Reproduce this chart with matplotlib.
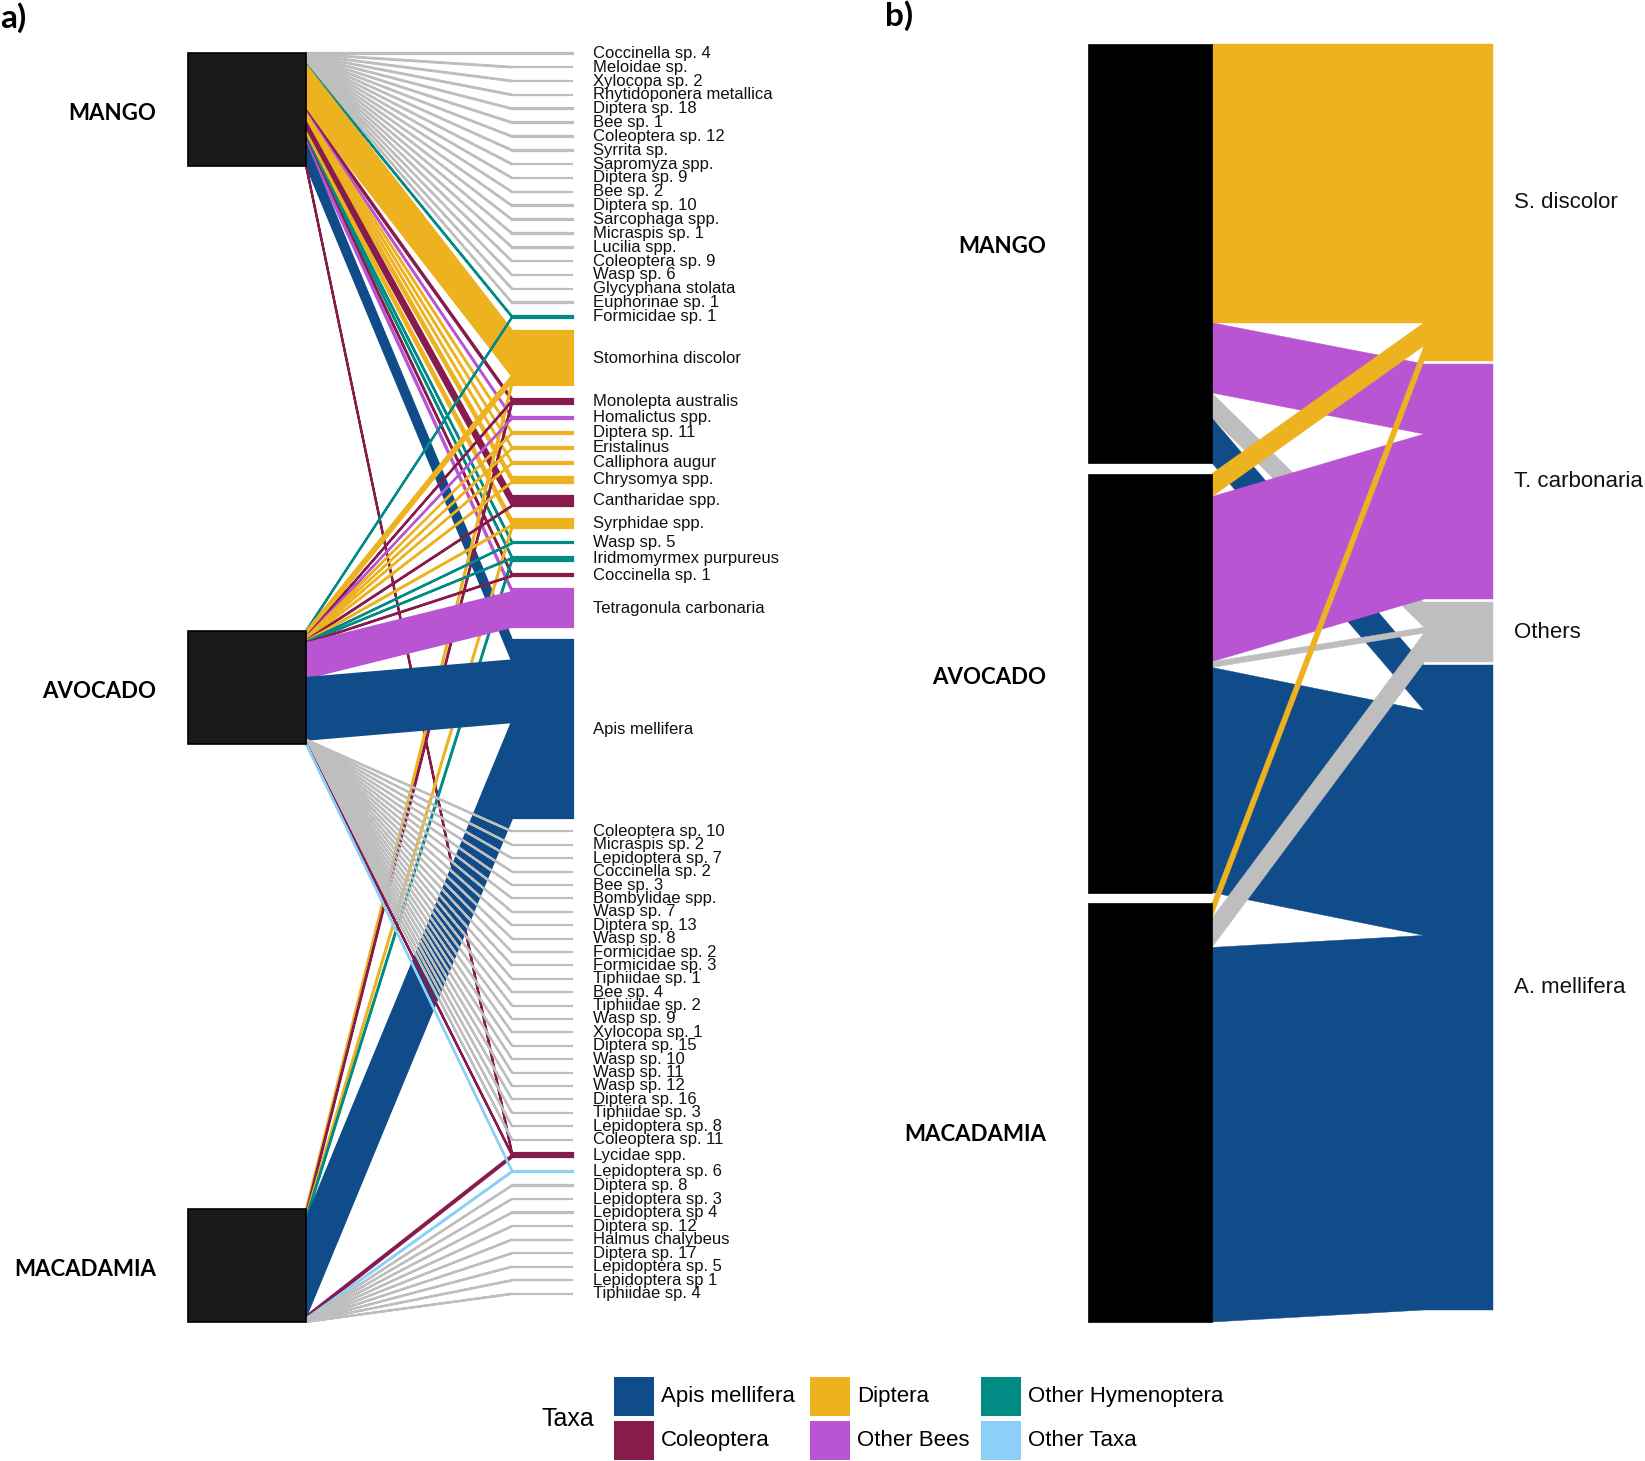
import numpy as np
import matplotlib
matplotlib.use("Agg")
import matplotlib.pyplot as plt
from matplotlib.patches import Polygon, Rectangle

# ---------------------------------------------------------------- data
CROPS = ["MANGO", "AVOCADO", "MACADAMIA"]

TAXA = ["Apis mellifera", "Coleoptera", "Diptera",
        "Other Bees", "Other Hymenoptera", "Other Taxa"]
TAXA_COLORS = ["#104c89", "#871c4c", "#edb220", "#b954d3", "#008b84", "#8ccff8"]
SINGLE_CROP_COLOR = "#bebebe"

# panel a: visitor species (top to bottom) and their taxon (index into TAXA)
SPECIES_A = [
    "Coccinella sp. 4", "Meloidae sp.", "Xylocopa sp. 2", "Rhytidoponera metallica",
    "Diptera sp. 18", "Bee sp. 1", "Coleoptera sp. 12", "Syrrita sp.",
    "Sapromyza spp.", "Diptera sp. 9", "Bee sp. 2", "Diptera sp. 10",
    "Sarcophaga spp.", "Micraspis sp. 1", "Lucilia spp.", "Coleoptera sp. 9",
    "Wasp sp. 6", "Glycyphana stolata", "Euphorinae sp. 1",
    "Formicidae sp. 1", "Stomorhina discolor", "Monolepta australis",
    "Homalictus spp.", "Diptera sp. 11", "Eristalinus", "Calliphora augur",
    "Chrysomya spp.", "Cantharidae spp.", "Syrphidae spp.", "Wasp sp. 5",
    "Iridmomyrmex purpureus", "Coccinella sp. 1", "Tetragonula carbonaria",
    "Apis mellifera",
    "Coleoptera sp. 10", "Micraspis sp. 2", "Lepidoptera sp. 7", "Coccinella sp. 2",
    "Bee sp. 3", "Bombylidae spp.", "Wasp sp. 7", "Diptera sp. 13", "Wasp sp. 8",
    "Formicidae sp. 2", "Formicidae sp. 3", "Tiphiidae sp. 1", "Bee sp. 4",
    "Tiphiidae sp. 2", "Wasp sp. 9", "Xylocopa sp. 1", "Diptera sp. 15",
    "Wasp sp. 10", "Wasp sp. 11", "Wasp sp. 12", "Diptera sp. 16",
    "Tiphiidae sp. 3", "Lepidoptera sp. 8", "Coleoptera sp. 11",
    "Lycidae spp.", "Lepidoptera sp. 6",
    "Diptera sp. 8", "Lepidoptera sp. 3", "Lepidoptera sp 4", "Diptera sp. 12",
    "Halmus chalybeus", "Diptera sp. 17", "Lepidoptera sp. 5", "Lepidoptera sp 1",
    "Tiphiidae sp. 4",
]
TAXON_A = [
    1, 1, 3, 4, 2, 3, 1, 2, 2, 2, 3, 2, 2, 1, 2, 1, 4, 1, 4,
    4, 2, 1, 3, 2, 2, 2, 2, 1, 2, 4, 4, 1, 3, 0,
    1, 1, 5, 1, 3, 2, 4, 2, 4, 4, 4, 4, 3, 4, 4, 3, 2, 4, 4, 4, 2, 4, 5, 1,
    1, 5,
    2, 5, 5, 2, 1, 2, 5, 5, 4,
]

# share of visits (%) of each species in each crop
MANGO_A = [
    0.55, 0.55, 0.55, 0.55, 0.55, 0.55, 0.55, 0.55, 0.55, 0.55,
    0.55, 0.55, 0.55, 0.55, 0.55, 0.55, 0.55, 0.55, 0.55,
    0.8, 42.0, 2.0, 1.2, 1.2, 1.2, 1.2, 4.5, 9.0, 5.0, 1.2, 1.2, 1.5, 2.5, 19.0,
    0, 0, 0, 0, 0, 0, 0, 0, 0, 0, 0, 0, 0, 0, 0, 0, 0, 0, 0, 0, 0, 0, 0, 0,
    1.5, 0,
    0, 0, 0, 0, 0, 0, 0, 0, 0,
]
AVOCADO_A = [
    0, 0, 0, 0, 0, 0, 0, 0, 0, 0, 0, 0, 0, 0, 0, 0, 0, 0, 0,
    0.4, 5.0, 0.5, 0.4, 0.4, 0.4, 0.4, 0.8, 0.6, 0.8, 0.4, 0.4, 0.5, 31.0, 55.0,
    0.12, 0.12, 0.12, 0.12, 0.12, 0.12, 0.12, 0.12, 0.12, 0.12, 0.12, 0.12,
    0.12, 0.12, 0.12, 0.12, 0.12, 0.12, 0.12, 0.12, 0.12, 0.12, 0.12, 0.12,
    0.5, 0.5,
    0, 0, 0, 0, 0, 0, 0, 0, 0,
]
MACADAMIA_A = [
    0, 0, 0, 0, 0, 0, 0, 0, 0, 0, 0, 0, 0, 0, 0, 0, 0, 0, 0,
    0, 3.5, 2.0, 0, 0, 0, 0, 0, 0, 2.5, 0, 2.0, 0, 0, 85.0,
    0, 0, 0, 0, 0, 0, 0, 0, 0, 0, 0, 0, 0, 0, 0, 0, 0, 0, 0, 0, 0, 0, 0, 0,
    2.0, 0.8,
    0.25, 0.25, 0.25, 0.25, 0.25, 0.25, 0.25, 0.25, 0.25,
]

# panel b: grouped visitors
GROUPS_B = ["S. discolor", "T. carbonaria", "Others", "A. mellifera"]
GROUP_COLORS_B = ["#edb220", "#b954d3", "#bebebe", "#104c89"]
MANGO_B = [66.4, 16.7, 6.0, 10.7]
AVOCADO_B = [5.5, 39.4, 1.4, 53.7]
MACADAMIA_B = [3.6, 0.0, 7.0, 89.4]

# ---------------------------------------------------------------- layout (pixels)
W, H = 1645, 1461
SANS = ["Liberation Sans", "DejaVu Sans"]
BOLD = ["Lato", "DejaVu Sans"]

fig = plt.figure(figsize=(W / 100, H / 100), dpi=100)
ax = fig.add_axes([0, 0, 1, 1])
ax.set_xlim(0, W)
ax.set_ylim(H, 0)
ax.axis("off")


def box_tops(top, bottom, h, n):
    gap = (bottom - top - n * h) / (n - 1)
    return [top + i * (h + gap) for i in range(n)]


# ---- panel a
A_X0, A_X1 = 188, 306          # crop boxes
A_KINK, A_SP_X1 = 512, 573     # species bars
A_BOX_H = 113
A_SP_TOP, A_SP_BOTTOM = 53, 1294
LINK_LW = 1.6

vals = np.array([MANGO_A, AVOCADO_A, MACADAMIA_A], dtype=float)
widths = vals / vals.sum(axis=1, keepdims=True) * A_BOX_H
n_sp = len(SPECIES_A)
sp_h = widths.sum(axis=0)
sp_gap = (A_SP_BOTTOM - A_SP_TOP - sp_h.sum()) / (n_sp - 1)
sp_top = A_SP_TOP + np.concatenate([[0], np.cumsum(sp_h + sp_gap)[:-1]])
n_crops_visited = (vals > 0).sum(axis=0)
sp_color = [SINGLE_CROP_COLOR if n_crops_visited[i] == 1 else TAXA_COLORS[TAXON_A[i]]
            for i in range(n_sp)]

crop_top_a = box_tops(A_SP_TOP, 1322, A_BOX_H, len(CROPS))
crop_off = [crop_top_a[c] + np.concatenate([[0], np.cumsum(widths[c])[:-1]])
            for c in range(len(CROPS))]
sp_off = sp_top + np.vstack([np.zeros(n_sp), np.cumsum(widths, axis=0)[:-1]])

for c in [0, 2, 1]:
    for s in range(n_sp):
        w = widths[c, s]
        if w <= 0:
            continue
        y0, y1 = crop_off[c][s], sp_off[c, s]
        ax.add_patch(Polygon([(A_X1, y0), (A_KINK, y1), (A_KINK, y1 + w), (A_X1, y0 + w)],
                             closed=True, facecolor=sp_color[s], edgecolor=sp_color[s],
                             lw=LINK_LW, joinstyle="round"))

for s in range(n_sp):
    ax.add_patch(Rectangle((A_KINK, sp_top[s]), A_SP_X1 - A_KINK, sp_h[s],
                           facecolor=sp_color[s], edgecolor=sp_color[s], lw=LINK_LW))
    ax.text(593, sp_top[s] + sp_h[s] / 2, SPECIES_A[s], fontsize=12, family=SANS,
            ha="left", va="center", color="#111111")

for c, name in enumerate(CROPS):
    ax.add_patch(Rectangle((A_X0, crop_top_a[c]), A_X1 - A_X0, A_BOX_H,
                           facecolor="#1a1a1a", edgecolor="black", lw=1.2, zorder=3))
    ax.text(156, crop_top_a[c] + A_BOX_H / 2 + 4, name, fontsize=16, family=BOLD,
            fontweight="bold", ha="right", va="center")

ax.text(0, 18, "a)", fontsize=24, family=BOLD, fontweight="bold", ha="left", va="center")

# ---- panel b
B_X0, B_X1 = 1088, 1212
B_KINK, B_X2 = 1424, 1493
B_TOP, B_BOX_H, B_GAP, B_RGAP = 44, 419, 10.5, 3
B_LABEL_DY = [-7, -5, 22]

vb = np.array([MANGO_B, AVOCADO_B, MACADAMIA_B], dtype=float)
wb = vb / vb.sum(axis=1, keepdims=True) * B_BOX_H
grp_h = wb.sum(axis=0)
grp_top = B_TOP + np.concatenate([[0], np.cumsum(grp_h + B_RGAP)[:-1]])
crop_top_b = [B_TOP + i * (B_BOX_H + B_GAP) for i in range(len(CROPS))]
left_off = [crop_top_b[c] + np.concatenate([[0], np.cumsum(wb[c])[:-1]])
            for c in range(len(CROPS))]
right_off = grp_top + np.vstack([np.zeros(len(GROUPS_B)), np.cumsum(wb, axis=0)[:-1]])

for c in range(len(CROPS)):
    for g in range(len(GROUPS_B)):
        w = wb[c, g]
        if w <= 0:
            continue
        y0, y1 = left_off[c][g], right_off[c, g]
        ax.add_patch(Polygon([(B_X1, y0), (B_KINK, y1), (B_KINK, y1 + w), (B_X1, y0 + w)],
                             closed=True, facecolor=GROUP_COLORS_B[g],
                             edgecolor=GROUP_COLORS_B[g], lw=0.3))

for g, name in enumerate(GROUPS_B):
    ax.add_patch(Rectangle((B_KINK, grp_top[g]), B_X2 - B_KINK, grp_h[g],
                           facecolor=GROUP_COLORS_B[g], edgecolor=GROUP_COLORS_B[g], lw=0.3))
    ax.text(1514, grp_top[g] + grp_h[g] / 2, name, fontsize=16, family=SANS,
            ha="left", va="center", color="#111111")

for c, name in enumerate(CROPS):
    ax.add_patch(Rectangle((B_X0, crop_top_b[c]), B_X1 - B_X0, B_BOX_H,
                           facecolor="black", edgecolor="black", lw=0.5, zorder=3))
    ax.text(1046, crop_top_b[c] + B_BOX_H / 2 + B_LABEL_DY[c], name, fontsize=16,
            family=BOLD, fontweight="bold", ha="right", va="center")

ax.text(885, 16, "b)", fontsize=24, family=BOLD, fontweight="bold", ha="left", va="center")

# ---- legend
ax.text(542, 1419, "Taxa", fontsize=18, family=SANS, ha="left", va="center")
key_x = [614, 810, 981]
key_y = [1377, 1421]
for i, (label, col) in enumerate(zip(TAXA, TAXA_COLORS)):
    kx, ky = key_x[i // 2], key_y[i % 2]
    ax.add_patch(Rectangle((kx, ky), 40, 39, facecolor=col, edgecolor="none"))
    ax.text(kx + 47, ky + 19.5, label, fontsize=16, family=SANS, ha="left", va="center")

fig.savefig("out.png", dpi=100)
